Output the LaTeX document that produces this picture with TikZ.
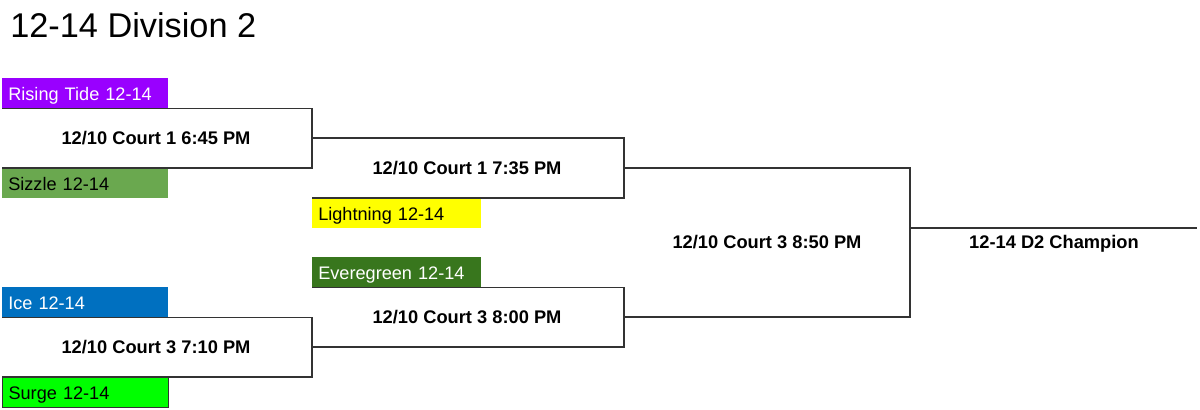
\documentclass[tikz,border=0pt]{standalone}
\usepackage{fontspec}
\setmainfont{Liberation Sans}
\usetikzlibrary{positioning}
\definecolor{tidepurple}{HTML}{9900FF}
\definecolor{sizzlegreen}{HTML}{6AA84F}
\definecolor{lightningyellow}{HTML}{FFFF00}
\definecolor{evergreen}{HTML}{38761D}
\definecolor{iceblue}{HTML}{0070C0}
\definecolor{surgegreen}{HTML}{00FF00}
\definecolor{bracketgray}{HTML}{333333}
\tikzset{
  team/.style={anchor=north west, inner xsep=0.15cm, inner ysep=0pt, text width=3.85cm, text height=10pt, text depth=0pt, minimum height=0.75cm, align=left, font=\fontsize{12.9}{15}\selectfont},
  game/.style={inner sep=0pt, font=\fontsize{13}{15}\selectfont\bfseries},
  bracket/.style={draw=bracketgray, line width=1pt}
}

\begin{document}
\begin{tikzpicture}[x=0.025cm, y=-0.025cm]
      \useasboundingbox (0,0) rectangle (1200,409);
      \node[anchor=base west, inner sep=0pt, font=\fontsize{24.4}{28}\selectfont] (title) at (10,37) {12-14 Division 2};
      \node[team, fill=tidepurple, text=white] (rt) at (2,78) {Rising Tide 12-14};
      \node[team, fill=sizzlegreen] (sz) at (2,168) {Sizzle 12-14};
      \node[team, fill=lightningyellow, text width=3.92cm] (li) at (312,198) {Lightning 12-14};
      \node[team, fill=evergreen, text=white, text width=3.92cm] (ev) at (312,257) {Everegreen 12-14};
      \node[team, fill=iceblue, text=white] (ic) at (2,287) {Ice 12-14};
      \node[team, fill=surgegreen, draw=bracketgray, line width=0.8pt] (su) at (2,377) {Surge 12-14};
      \coordinate (w1) at (312,138);
      \coordinate (w2) at (624,168);
      \coordinate (w3) at (624,317);
      \coordinate (w4) at (312,347);
      \coordinate (wf) at (910,228);
      \coordinate (end) at (1197,228);
      \node[game] (m1) at (156,138) {12/10 Court 1 6:45 PM};
      \node[game] (m2) at (467,168) {12/10 Court 1 7:35 PM};
      \node[game] (m3) at (467,317) {12/10 Court 3 8:00 PM};
      \node[game] (m4) at (156,347) {12/10 Court 3 7:10 PM};
      \node[game] (mf) at (767,242) {12/10 Court 3 8:50 PM};
      \node[game] (champ) at (1054,244) {12-14 D2 Champion};
      \draw[bracket] (rt.south west) -| (w1) |- (sz.north west);
      \draw[bracket] (w1) -| (w2) |- (li.north west);
      \draw[bracket] (ev.south west) -| (w3) |- (w4);
      \draw[bracket] (ic.south west) -| (w4) |- (su.north west);
      \draw[bracket] (w2) -| (wf) |- (w3);
      \draw[bracket] (wf) -- (end);
    \end{tikzpicture}
\end{document}
